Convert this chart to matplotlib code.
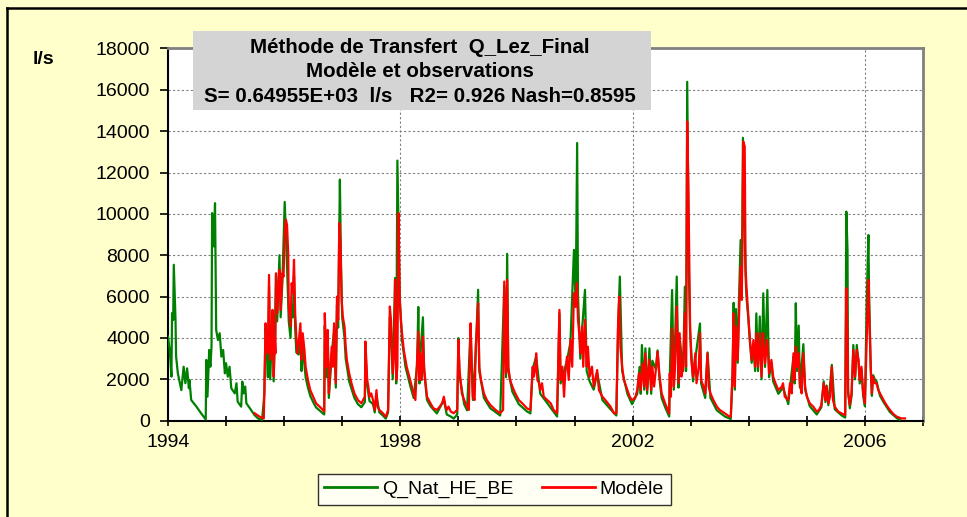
import matplotlib.pyplot as plt
from matplotlib.patches import Rectangle
from matplotlib.lines import Line2D
from matplotlib.ticker import MultipleLocator, FixedLocator

plt.rcParams['font.family'] = ['Liberation Sans', 'DejaVu Sans']

obs = [
    (1994.00, 4070), (1994.03, 3420), (1994.06, 2130), (1994.07, 5200), (1994.09, 4870),
    (1994.10, 7540), (1994.13, 4870), (1994.14, 3100), (1994.17, 2290), (1994.23, 1480),
    (1994.27, 2610), (1994.30, 1810), (1994.33, 2530), (1994.36, 1570), (1994.37, 1970),
    (1994.40, 1000), (1994.49, 680), (1994.57, 360), (1994.65, 60), (1994.66, 2940),
    (1994.68, 1160), (1994.71, 3420), (1994.73, 2610), (1994.75, 3580), (1994.76, 10040),
    (1994.79, 8430), (1994.81, 10520), (1994.83, 4390), (1994.86, 3900), (1994.89, 4230),
    (1994.92, 3100), (1994.95, 3420), (1994.98, 2290), (1995.00, 2780), (1995.03, 2130),
    (1995.06, 2610), (1995.09, 1570), (1995.15, 1320), (1995.18, 1810), (1995.20, 920),
    (1995.26, 680), (1995.28, 1890), (1995.30, 1320), (1995.33, 1650), (1995.35, 840),
    (1995.41, 600), (1995.49, 270), (1995.55, 110), (1995.62, 30), (1995.66, 1300),
    (1995.68, 4500), (1995.70, 3600), (1995.72, 2100), (1995.74, 6500), (1995.76, 2000),
    (1995.80, 5000), (1995.82, 1900), (1995.86, 7000), (1995.88, 4800), (1995.92, 8000),
    (1995.94, 5000), (1995.97, 6700), (1996.01, 10580), (1996.03, 9000), (1996.05, 7500),
    (1996.08, 4800), (1996.11, 4000), (1996.13, 5600), (1996.15, 5000), (1996.17, 7000),
    (1996.19, 4500), (1996.21, 3300), (1996.25, 3200), (1996.28, 4200), (1996.30, 2400),
    (1996.32, 3600), (1996.37, 2100), (1996.41, 1600), (1996.45, 1200), (1996.50, 900),
    (1996.55, 640), (1996.64, 420), (1996.69, 300), (1996.70, 4600), (1996.73, 2100),
    (1996.75, 3900), (1996.77, 1100), (1996.82, 3200), (1996.86, 4400), (1996.89, 1600),
    (1996.91, 5600), (1996.93, 4500), (1996.96, 11660), (1996.98, 7500), (1997.00, 5000),
    (1997.04, 4000), (1997.06, 3000), (1997.12, 1900), (1997.21, 1100), (1997.27, 800),
    (1997.33, 650), (1997.39, 900), (1997.40, 3500), (1997.43, 1700), (1997.47, 950),
    (1997.53, 800), (1997.56, 400), (1997.59, 1200), (1997.64, 400), (1997.70, 250),
    (1997.75, 100), (1997.79, 400), (1997.82, 5000), (1997.84, 4500), (1997.87, 2000),
    (1997.91, 6900), (1997.93, 1800), (1997.95, 12580), (1997.99, 6000), (1998.03, 3900),
    (1998.09, 2600), (1998.17, 1700), (1998.23, 1100), (1998.29, 2700), (1998.31, 5500),
    (1998.33, 1800), (1998.34, 3000), (1998.39, 5000), (1998.41, 2400), (1998.46, 1000),
    (1998.52, 700), (1998.63, 350), (1998.75, 1000), (1998.80, 300), (1998.87, 200),
    (1998.92, 100), (1998.98, 300), (1999.00, 3990), (1999.02, 2200), (1999.10, 800),
    (1999.15, 500), (1999.21, 4500), (1999.25, 1000), (1999.30, 3400), (1999.34, 6330),
    (1999.36, 2400), (1999.44, 1100), (1999.55, 600), (1999.72, 250), (1999.79, 6500),
    (1999.82, 2100), (1999.84, 8070), (1999.86, 2400), (1999.93, 1400), (2000.04, 800),
    (2000.18, 450), (2000.24, 350), (2000.28, 2500), (2000.34, 3100), (2000.41, 1300),
    (2000.53, 850), (2000.70, 200), (2000.74, 5200), (2000.76, 1800), (2000.87, 2900),
    (2000.93, 3800), (2000.99, 8260), (2001.02, 5500), (2001.045, 13430), (2001.06, 6000),
    (2001.10, 3000), (2001.13, 4400), (2001.18, 6330), (2001.21, 2400), (2001.26, 1900),
    (2001.33, 1500), (2001.39, 2300), (2001.48, 1000), (2001.62, 550), (2001.72, 250),
    (2001.75, 4500), (2001.78, 6970), (2001.82, 2400), (2001.91, 1300), (2001.99, 800),
    (2002.08, 1300), (2002.12, 2600), (2002.14, 1300), (2002.16, 3660), (2002.20, 1500),
    (2002.22, 3500), (2002.25, 1300), (2002.29, 3500), (2002.32, 1300), (2002.34, 2900),
    (2002.40, 2500), (2002.43, 3400), (2002.46, 2100), (2002.50, 1100), (2002.56, 650),
    (2002.63, 200), (2002.64, 2100), (2002.68, 6320), (2002.71, 1500), (2002.76, 6970),
    (2002.79, 1600), (2002.81, 4000), (2002.87, 2400), (2002.90, 6480), (2002.92, 2400),
    (2002.94, 16390), (2002.97, 7000), (2002.99, 4300), (2003.04, 1900), (2003.08, 3000),
    (2003.16, 4700), (2003.18, 1800), (2003.25, 1100), (2003.29, 3300), (2003.34, 1100),
    (2003.45, 500), (2003.59, 200), (2003.69, 80), (2003.72, 2100), (2003.74, 5700),
    (2003.76, 1500), (2003.78, 5400), (2003.81, 2800), (2003.83, 5680), (2003.86, 8740),
    (2003.88, 6000), (2003.90, 13680), (2003.93, 9000), (2003.945, 7000), (2003.96, 6000),
    (2003.99, 5000), (2004.02, 3800), (2004.05, 2800), (2004.08, 3600), (2004.11, 2400),
    (2004.13, 5190), (2004.16, 2400), (2004.19, 5040), (2004.22, 2000), (2004.25, 6160),
    (2004.28, 2600), (2004.32, 6320), (2004.35, 2100), (2004.39, 2800), (2004.42, 1900),
    (2004.51, 1300), (2004.59, 1600), (2004.68, 800), (2004.71, 1600), (2004.77, 3100),
    (2004.79, 1800), (2004.81, 5680), (2004.83, 2400), (2004.86, 4600), (2004.88, 1600),
    (2004.94, 3700), (2004.97, 1500), (2005.05, 700), (2005.17, 300), (2005.25, 650),
    (2005.29, 1900), (2005.32, 900), (2005.34, 1700), (2005.37, 750), (2005.43, 2700),
    (2005.48, 550), (2005.60, 250), (2005.66, 150), (2005.68, 10110), (2005.70, 8260),
    (2005.71, 1500), (2005.74, 600), (2005.77, 1200), (2005.80, 3660), (2005.83, 2000),
    (2005.86, 3660), (2005.89, 2800), (2005.91, 1800), (2005.94, 2500), (2005.97, 1200),
    (2006.00, 700), (2006.03, 5680), (2006.06, 8980), (2006.07, 6500), (2006.10, 2500),
    (2006.12, 1200), (2006.14, 2200), (2006.17, 2000), (2006.20, 1900), (2006.26, 1200),
    (2006.32, 900), (2006.43, 420), (2006.55, 120), (2006.60, 50),
]

# model flow "Modèle" (decimal year, l/s)
mod = [
    (1995.49, 360), (1995.58, 190), (1995.65, 110), (1995.66, 1480), (1995.68, 4710),
    (1995.70, 4070), (1995.72, 3260), (1995.74, 7050), (1995.76, 2940), (1995.78, 3580),
    (1995.80, 5360), (1995.82, 2130), (1995.84, 3900), (1995.85, 3260), (1995.86, 7130),
    (1995.88, 5200), (1995.90, 6330), (1995.92, 7300), (1995.94, 5360), (1995.97, 7130),
    (1995.99, 6970), (1996.01, 9070), (1996.03, 9720), (1996.05, 9470), (1996.07, 8100),
    (1996.08, 5520), (1996.11, 4550), (1996.13, 6650), (1996.15, 6170), (1996.17, 7780),
    (1996.19, 5200), (1996.21, 4070), (1996.23, 3260), (1996.25, 3740), (1996.28, 4710),
    (1996.30, 2940), (1996.32, 4230), (1996.35, 3420), (1996.37, 2610), (1996.41, 1970),
    (1996.45, 1480), (1996.50, 1160), (1996.55, 840), (1996.64, 600), (1996.69, 440),
    (1996.70, 5200), (1996.73, 2610), (1996.75, 4390), (1996.77, 1320), (1996.79, 2290),
    (1996.82, 3580), (1996.84, 2610), (1996.86, 4710), (1996.89, 1810), (1996.91, 6000),
    (1996.93, 4870), (1996.95, 9560), (1996.97, 8590), (1996.99, 5840), (1997.01, 5040),
    (1997.04, 4550), (1997.06, 3580), (1997.08, 2940), (1997.12, 2290), (1997.16, 1810),
    (1997.21, 1320), (1997.27, 1000), (1997.33, 840), (1997.39, 1160), (1997.40, 3830),
    (1997.43, 1970), (1997.45, 1650), (1997.47, 1160), (1997.50, 1320), (1997.53, 1000),
    (1997.56, 520), (1997.59, 1480), (1997.61, 680), (1997.64, 520), (1997.70, 360),
    (1997.75, 190), (1997.79, 520), (1997.82, 5520), (1997.84, 4870), (1997.87, 2290),
    (1997.90, 3580), (1997.91, 6810), (1997.93, 1970), (1997.95, 2610), (1997.97, 10040),
    (1997.99, 5840), (1998.01, 4870), (1998.03, 4230), (1998.06, 3420), (1998.09, 2940),
    (1998.11, 2610), (1998.17, 1970), (1998.23, 1320), (1998.26, 1000), (1998.29, 2940),
    (1998.31, 4310), (1998.33, 1970), (1998.34, 3260), (1998.37, 1970), (1998.39, 4070),
    (1998.41, 2610), (1998.43, 1970), (1998.46, 1160), (1998.52, 840), (1998.57, 600),
    (1998.63, 520), (1998.68, 680), (1998.72, 840), (1998.75, 1160), (1998.78, 680),
    (1998.80, 520), (1998.83, 680), (1998.87, 440), (1998.92, 360), (1998.98, 520),
    (1999.00, 3910), (1999.02, 2450), (1999.06, 1320), (1999.10, 1000), (1999.15, 680),
    (1999.18, 520), (1999.21, 4710), (1999.23, 2610), (1999.25, 1160), (1999.28, 1000),
    (1999.30, 3580), (1999.32, 4550), (1999.34, 5680), (1999.36, 2610), (1999.39, 1970),
    (1999.44, 1320), (1999.49, 1000), (1999.55, 760), (1999.64, 520), (1999.72, 360),
    (1999.77, 520), (1999.79, 6730), (1999.82, 2290), (1999.84, 6810), (1999.86, 2610),
    (1999.89, 1970), (1999.93, 1650), (1999.98, 1320), (2000.04, 1000), (2000.10, 840),
    (2000.18, 600), (2000.24, 520), (2000.28, 2610), (2000.30, 2130), (2000.32, 2450),
    (2000.34, 3260), (2000.36, 1970), (2000.39, 1810), (2000.41, 1480), (2000.44, 1810),
    (2000.47, 1160), (2000.53, 1000), (2000.59, 840), (2000.64, 520), (2000.70, 360),
    (2000.74, 5360), (2000.76, 1970), (2000.79, 2610), (2000.82, 1160), (2000.84, 2290),
    (2000.87, 3100), (2000.90, 1970), (2000.93, 3910), (2000.96, 2610), (2000.99, 6170),
    (2001.02, 5520), (2001.04, 6650), (2001.06, 4870), (2001.09, 3910), (2001.10, 3260),
    (2001.13, 4550), (2001.15, 2610), (2001.18, 4870), (2001.21, 2610), (2001.23, 3580),
    (2001.26, 2130), (2001.30, 2610), (2001.33, 1650), (2001.39, 2450), (2001.42, 1480),
    (2001.48, 1160), (2001.53, 1000), (2001.62, 680), (2001.68, 360), (2001.72, 360),
    (2001.75, 4710), (2001.77, 6000), (2001.79, 3580), (2001.82, 2610), (2001.85, 1970),
    (2001.91, 1480), (2001.95, 1160), (2001.99, 1000), (2002.04, 1080), (2002.08, 1480),
    (2002.11, 2290), (2002.14, 1480), (2002.17, 2770), (2002.20, 1650), (2002.22, 3260),
    (2002.25, 1480), (2002.29, 2940), (2002.32, 1480), (2002.34, 2610), (2002.37, 1650),
    (2002.40, 2450), (2002.43, 3340), (2002.46, 2290), (2002.50, 1320), (2002.56, 840),
    (2002.63, 350), (2002.64, 2290), (2002.66, 1160), (2002.68, 4470), (2002.71, 1650),
    (2002.73, 2610), (2002.76, 5520), (2002.79, 1810), (2002.81, 4230), (2002.84, 2130),
    (2002.87, 2610), (2002.90, 5190), (2002.92, 2610), (2002.94, 14470), (2002.96, 11320),
    (2002.99, 4550), (2003.01, 2940), (2003.04, 2130), (2003.08, 3260), (2003.10, 1810),
    (2003.14, 2610), (2003.16, 4230), (2003.18, 1970), (2003.22, 1650), (2003.25, 1320),
    (2003.29, 3260), (2003.31, 1650), (2003.34, 1320), (2003.39, 1000), (2003.45, 680),
    (2003.50, 520), (2003.59, 350), (2003.65, 230), (2003.69, 190), (2003.72, 2290),
    (2003.74, 5190), (2003.76, 1650), (2003.78, 4550), (2003.81, 2940), (2003.83, 4870),
    (2003.86, 7450), (2003.88, 5840), (2003.905, 13500), (2003.93, 13260), (2003.945, 7450),
    (2003.96, 6480), (2003.99, 5190), (2004.02, 3900), (2004.05, 2940), (2004.08, 3900),
    (2004.11, 2610), (2004.13, 4230), (2004.16, 2610), (2004.19, 4230), (2004.22, 2130),
    (2004.25, 4230), (2004.28, 2770), (2004.32, 3900), (2004.35, 2290), (2004.39, 2940),
    (2004.42, 2130), (2004.46, 1810), (2004.51, 1480), (2004.57, 1650), (2004.59, 1810),
    (2004.62, 1160), (2004.68, 1000), (2004.71, 1810), (2004.74, 1320), (2004.77, 3260),
    (2004.79, 1970), (2004.81, 3580), (2004.83, 2610), (2004.86, 3260), (2004.88, 1810),
    (2004.91, 1320), (2004.94, 3260), (2004.97, 1650), (2005.00, 1160), (2005.05, 840),
    (2005.11, 680), (2005.17, 440), (2005.21, 520), (2005.25, 760), (2005.29, 1810),
    (2005.32, 1000), (2005.34, 1650), (2005.37, 840), (2005.40, 1160), (2005.43, 2610),
    (2005.45, 1000), (2005.48, 680), (2005.54, 440), (2005.60, 350), (2005.66, 270),
    (2005.68, 6400), (2005.70, 4230), (2005.71, 1320), (2005.74, 760), (2005.77, 1320),
    (2005.80, 3420), (2005.83, 2130), (2005.86, 3420), (2005.89, 2940), (2005.91, 1970),
    (2005.94, 2610), (2005.97, 1320), (2006.00, 840), (2006.03, 3740), (2006.06, 6810),
    (2006.07, 5520), (2006.10, 2610), (2006.12, 1320), (2006.14, 2130), (2006.17, 1810),
    (2006.20, 1810), (2006.23, 1480), (2006.26, 1320), (2006.32, 1000), (2006.37, 760),
    (2006.43, 520), (2006.49, 320), (2006.55, 190), (2006.63, 110), (2006.69, 110),
]

obs_t, obs_q = zip(*obs)
mod_t, mod_q = zip(*mod)

year_labels = [1994, 1998, 2002, 2006]
title_lines = ["Méthode de Transfert  Q_Lez_Final",
               "Modèle et observations",
               "S= 0.64955E+03  l/s   R2= 0.926 Nash=0.8595"]

fig = plt.figure(figsize=(9.67, 5.17), dpi=100, facecolor='#FFFFCC')
ax = fig.add_axes([0.1737, 0.1863, 0.7808, 0.7199])
ax.set_facecolor('white')

l1, = ax.plot(obs_t, obs_q, color='#008000', lw=1.6, zorder=3)
l2, = ax.plot(mod_t, mod_q, color='#FF0000', lw=1.6, zorder=4)

ax.set_xlim(1994, 2007)
ax.set_ylim(0, 18000)
ax.xaxis.set_major_locator(FixedLocator(year_labels))
ax.xaxis.set_minor_locator(MultipleLocator(1))
ax.yaxis.set_major_locator(MultipleLocator(2000))
ax.xaxis.set_major_formatter(plt.FuncFormatter(lambda v, p: '%d' % v))

ax.grid(True, which='major', color='#808080', lw=0.8, linestyle=(0, (2, 2)), zorder=1)
ax.tick_params(axis='y', direction='out', length=6, width=1.2, pad=7, labelsize=14)
ax.tick_params(axis='x', which='both', direction='inout', length=7, width=1.2, pad=6, labelsize=14)

for s in ['left', 'bottom']:
    ax.spines[s].set_color('black')
    ax.spines[s].set_linewidth(1.5)
for s in ['top', 'right']:
    ax.spines[s].set_color('#808080')
    ax.spines[s].set_linewidth(2)

# grey title box
fig.patches.append(Rectangle((193 / 967, 1 - 110 / 517), 458 / 967, 79 / 517,
                             transform=fig.transFigure, facecolor='#D4D4D4',
                             edgecolor='none', zorder=5))
for i, txt in enumerate(title_lines):
    fig.text(0.4343, 0.909 - i * 0.0475, txt, ha='center', va='center',
             fontsize=14.8, fontweight='bold', zorder=6)

fig.text(0.0445, 0.884, 'l/s', ha='center', va='center', fontsize=14, fontweight='bold')

# chart frame (top and left edges visible)
fig.add_artist(Line2D([7 / 967, 1], [1 - 8 / 517, 1 - 8 / 517], color='black', lw=1.8,
                      transform=fig.transFigure))
fig.add_artist(Line2D([7 / 967, 7 / 967], [0, 1 - 8 / 517], color='black', lw=1.8,
                      transform=fig.transFigure))

leg = fig.legend([l1, l2], ['Q_Nat_HE_BE', 'Modèle'], loc='center',
                 bbox_to_anchor=(0.511, 0.0532), ncol=2, fontsize=14,
                 frameon=True, fancybox=False, handlelength=2.7,
                 handletextpad=0.25, columnspacing=1.5, borderpad=0.35)
leg.get_frame().set_edgecolor('black')
leg.get_frame().set_linewidth(1.0)
leg.get_frame().set_facecolor('white')
for h in leg.get_lines():
    h.set_linewidth(2)

fig.savefig('out.png', dpi=100, facecolor=fig.get_facecolor())
